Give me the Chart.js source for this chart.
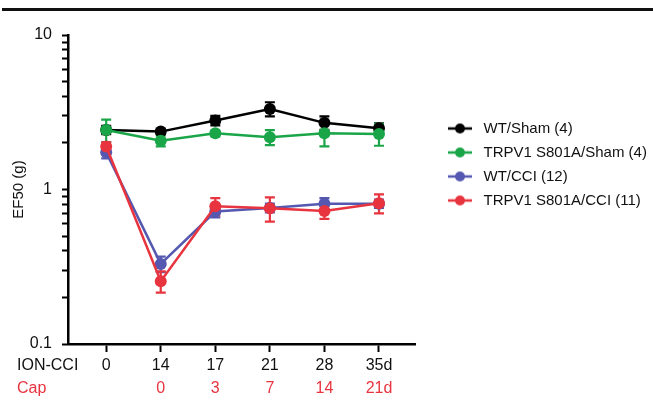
<!DOCTYPE html>
<html>
<head>
<meta charset="utf-8">
<script src="https://cdn.jsdelivr.net/npm/chart.js@4/dist/chart.umd.min.js"></script>
<style>
  html, body { margin: 0; padding: 0; background: #fff; }
  #wrap { position: relative; width: 653px; height: 401px; }
  #bar { position: absolute; left: 2px; top: 8px; width: 651px; height: 3px; background: #111; }
  canvas { position: absolute; left: 0; top: 0; }
</style>
</head>
<body>
<div id="wrap">
  <div id="bar"></div>
  <canvas id="chart" width="653" height="401"></canvas>
</div>
<script>
const ionLabels = ['0', '14', '17', '21', '28', '35d'];
const capLabels = ['', '0', '3', '7', '14', '21d'];
const yTicks = [0.1, 0.2, 0.3, 0.4, 0.5, 0.6, 0.7, 0.8, 0.9, 1, 2, 3, 4, 5, 6, 7, 8, 9, 10];

const seriesNames = ['WT/Sham (4)', 'TRPV1 S801A/Sham (4)', 'WT/CCI (12)', 'TRPV1 S801A/CCI (11)'];
const seriesColors = ['#000000', '#1aa648', '#5558b0', '#e8343f'];

const wtSham = [2.43, 2.37, 2.80, 3.32, 2.70, 2.49];
const wtShamErr = [0.15, 0.08, 0.2, 0.35, 0.27, 0.19];
const mutSham = [2.43, 2.07, 2.31, 2.18, 2.31, 2.29];
const mutShamErr = [0.4, 0.17, 0.1, 0.24, 0.41, 0.37];
const wtCci = [1.74, 0.33, 0.72, 0.76, 0.81, 0.81];
const wtCciErr = [0.15, 0.038, 0.06, 0.05, 0.07, 0.05];
const mutCci = [1.9, 0.255, 0.78, 0.755, 0.725, 0.815];
const mutCciErr = [0.12, 0.04, 0.1, 0.135, 0.08, 0.115];

const allMeans = [wtSham, mutSham, wtCci, mutCci];
const allErrs = [wtShamErr, mutShamErr, wtCciErr, mutCciErr];
const drawOrder = [3, 1, 2, 0];

const FONT = 'Liberation Sans, Arial, sans-serif';

// legend symbol: short line with a dot, drawn in the right part of a wider box
function legendSymbol(color) {
    const c = document.createElement('canvas');
    c.width = 52;
    c.height = 12;
    const g = c.getContext('2d');
    g.strokeStyle = color;
    g.lineWidth = 2.5;
    g.beginPath();
    g.moveTo(24, 6);
    g.lineTo(48, 6);
    g.stroke();
    g.fillStyle = color;
    g.beginPath();
    g.arc(36, 6, 5, 0, Math.PI * 2);
    g.fill();
    return c;
}

const errorBars = {
    id: 'errorBars',
    beforeDatasetsDraw(chart) {
        const {ctx, scales} = chart;
        ctx.save();
        ctx.lineWidth = 2.2;
        allMeans.forEach((means, s) => {
            ctx.strokeStyle = seriesColors[s];
            means.forEach((m, i) => {
                const e = allErrs[s][i];
                const x = scales.x.getPixelForValue(i);
                const yTop = scales.y.getPixelForValue(m + e);
                const yBot = scales.y.getPixelForValue(m - e);
                ctx.beginPath();
                ctx.moveTo(x, yTop);
                ctx.lineTo(x, yBot);
                ctx.moveTo(x - 5, yTop);
                ctx.lineTo(x + 5, yTop);
                ctx.moveTo(x - 5, yBot);
                ctx.lineTo(x + 5, yBot);
                ctx.stroke();
            });
        });
        ctx.restore();
    }
};

const rowLabels = {
    id: 'rowLabels',
    afterDraw(chart) {
        const {ctx, scales} = chart;
        ctx.save();
        ctx.font = '16px ' + FONT;
        ctx.textBaseline = 'middle';
        ctx.textAlign = 'left';
        ctx.fillStyle = '#111';
        ctx.fillText('ION-CCI', 17, scales.x.top + 8 + 4 + 9.6);
        ctx.fillStyle = '#e8343f';
        ctx.fillText('Cap', 17, scales.x2.top + 12.6);
        ctx.restore();
    }
};

// let the legend take more room than the default half-width limit
const wideLegend = {
    id: 'wideLegend',
    afterInit(chart) {
        const lg = chart.legend;
        const orig = lg.update.bind(lg);
        lg.update = (maxWidth, maxHeight, margins) => orig(238, maxHeight, margins);
    }
};

const ctx = document.getElementById('chart').getContext('2d');
const myChart = new Chart(ctx, {
    type: 'line',
    data: {
        datasets: allMeans.map((means, s) => ({
            label: seriesNames[s],
            data: means.map((y, i) => ({x: i, y: y})),
            borderColor: seriesColors[s],
            backgroundColor: seriesColors[s],
            borderWidth: 2.5,
            pointRadius: 6,
            pointHoverRadius: 6,
            pointBorderWidth: 0,
            fill: false,
            tension: 0,
            order: drawOrder[s]
        }))
    },
    options: {
        responsive: false,
        animation: false,
        events: [],
        layout: {
            padding: {top: 35, left: 0, right: 0, bottom: 0}
        },
        scales: {
            x: {
                type: 'linear',
                position: 'bottom',
                min: -0.7,
                max: 5.66,
                afterBuildTicks: (scale) => {
                    scale.ticks = ionLabels.map((l, i) => ({value: i}));
                },
                afterFit: (scale) => { scale.height = 32; },
                border: {color: '#000', width: 2.5},
                grid: {drawOnChartArea: false, tickLength: 8, tickColor: '#000', tickWidth: 2},
                ticks: {
                    autoSkip: false,
                    maxRotation: 0,
                    padding: 4,
                    color: '#111',
                    font: {family: FONT, size: 16},
                    callback: (v) => ionLabels[v]
                }
            },
            x2: {
                type: 'linear',
                position: 'bottom',
                min: -0.7,
                max: 5.66,
                afterBuildTicks: (scale) => {
                    scale.ticks = capLabels.map((l, i) => ({value: i}));
                },
                afterFit: (scale) => { scale.height = 25; },
                border: {display: false},
                grid: {display: false, drawTicks: false},
                ticks: {
                    autoSkip: false,
                    maxRotation: 0,
                    padding: 3,
                    color: '#e8343f',
                    font: {family: FONT, size: 16},
                    callback: (v) => capLabels[v]
                }
            },
            y: {
                type: 'logarithmic',
                min: 0.1,
                max: 10,
                afterBuildTicks: (scale) => {
                    scale.ticks = yTicks.map(v => ({value: v, major: [0.1, 1, 10].includes(v)}));
                },
                afterFit: (scale) => { scale.width = 68; },
                border: {color: '#000', width: 2.5},
                grid: {drawOnChartArea: false, tickLength: 6, tickColor: '#000', tickWidth: 2},
                title: {
                    display: true,
                    text: 'EF50 (g)',
                    color: '#111',
                    font: {family: FONT, size: 15},
                    padding: {top: 10, bottom: 0}
                },
                ticks: {
                    autoSkip: false,
                    padding: 10,
                    color: '#111',
                    font: {family: FONT, size: 16},
                    callback: (v) => ([0.1, 1, 10].includes(v) ? String(v) : '')
                }
            }
        },
        plugins: {
            tooltip: {enabled: false},
            legend: {
                position: 'right',
                align: 'start',
                title: {display: true, text: '', font: {size: 10}, padding: {top: 0, bottom: 65}},
                labels: {
                    sort: (a, b) => a.datasetIndex - b.datasetIndex,
                    usePointStyle: true,
                    pointStyleWidth: 52,
                    padding: 9,
                    color: '#111',
                    font: {family: FONT, size: 15},
                    generateLabels: (chart) => {
                        const items = Chart.defaults.plugins.legend.labels.generateLabels(chart);
                        items.forEach(it => { it.pointStyle = legendSymbol(seriesColors[it.datasetIndex]); });
                        return items;
                    }
                }
            }
        }
    },
    plugins: [errorBars, rowLabels, wideLegend]
});
</script>
</body>
</html>
